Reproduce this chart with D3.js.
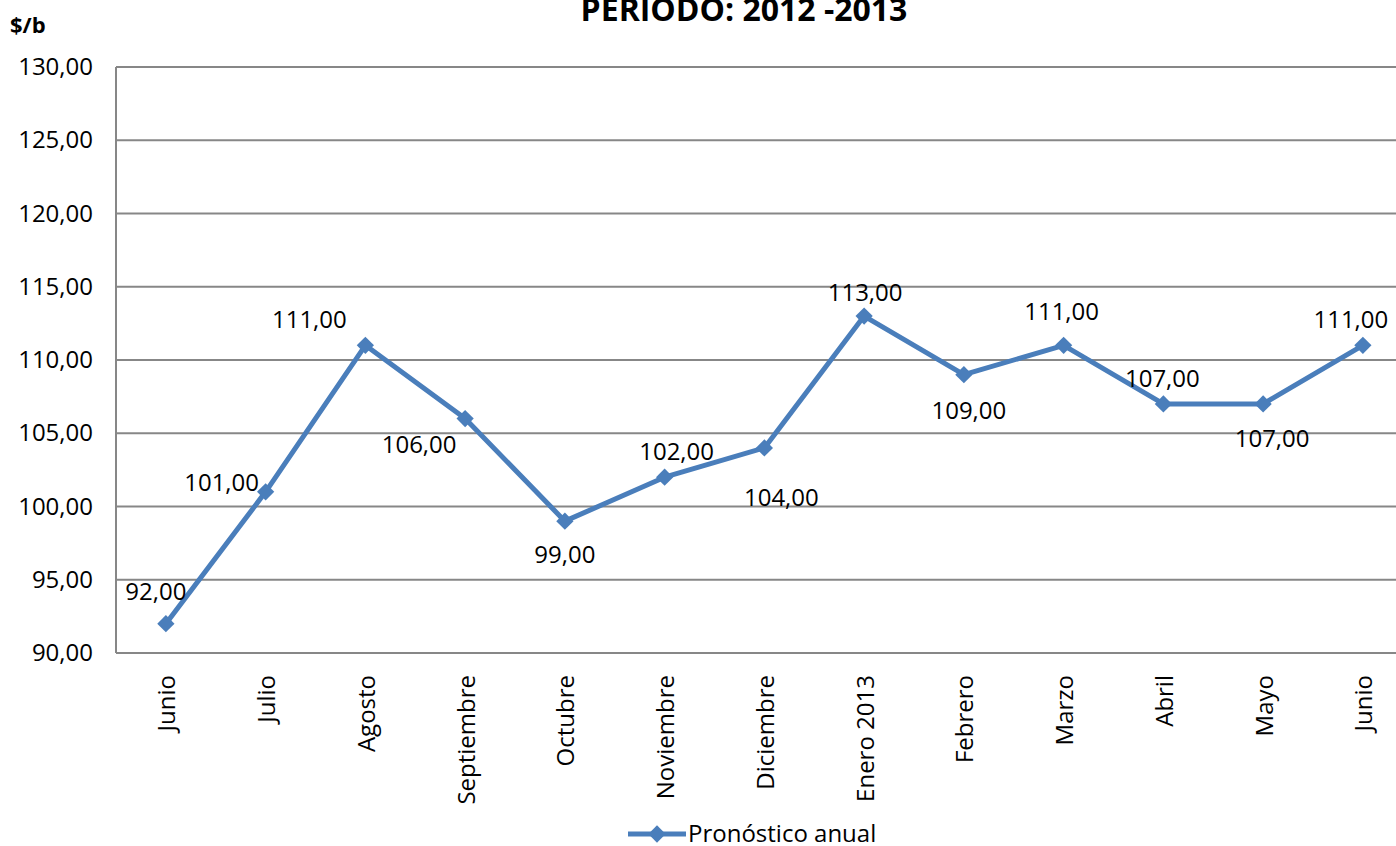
<!DOCTYPE html>
<html>
<head>
<meta charset="utf-8">
<script src="https://cdn.jsdelivr.net/npm/d3@7"></script>
<style>
  html, body { margin: 0; padding: 0; background: #fff; overflow: hidden; }
  svg { display: block; font-family: "Open Sans", "Liberation Sans", sans-serif; }
</style>
</head>
<body>
<svg id="chart" width="1396" height="846"></svg>
<script>
// Monthly forecast, June 2012 – June 2013 ($/b)
const months = ["Junio", "Julio", "Agosto", "Septiembre", "Octubre", "Noviembre",
  "Diciembre", "Enero 2013", "Febrero", "Marzo", "Abril", "Mayo", "Junio"];
const forecast = [92, 101, 111, 106, 99, 102, 104, 113, 109, 111, 107, 107, 111];
const yTicks = [90, 95, 100, 105, 110, 115, 120, 125, 130];
const seriesName = "Pronóstico anual";
const titleText = "PERIODO: 2012 -2013";
const unitText = "$/b";

// Placement of each value label relative to its marker (px)
const labelOffsets = [
  [-10, -33], [-44, -10], [-56, -27], [-46, 25], [0, 32], [12, -27], [17, 49],
  [1, -25], [5, 35], [-2, -35], [-1, -26], [9, 34], [-12, -27]
];

const svg = d3.select("#chart");
const plotLeft = 116, plotTop = 67, plotBottom = 653;
const step = 99.75;
const plotRight = plotLeft + step * months.length;

const x = d3.scaleBand().domain(d3.range(months.length)).range([plotLeft, plotRight]).padding(0);
const y = d3.scaleLinear().domain([90, 130]).range([plotBottom, plotTop]);
const fmt = v => d3.format(".2f")(v).replace(".", ",");

const blue = "#4A7EBB";
const grid = "#878787";

// Gridlines
svg.append("g").selectAll("line").data(yTicks).join("line")
  .attr("x1", plotLeft).attr("x2", plotRight)
  .attr("y1", d => y(d)).attr("y2", d => y(d))
  .attr("stroke", grid).attr("stroke-width", 2);

// Left axis line
svg.append("line").attr("x1", plotLeft).attr("x2", plotLeft)
  .attr("y1", plotTop).attr("y2", plotBottom).attr("stroke", grid).attr("stroke-width", 2);

// Y tick labels
const yAxis = d3.axisLeft(y).tickValues(yTicks).tickFormat(fmt).tickSize(0).tickPadding(0);
const yg = svg.append("g").attr("transform", `translate(${plotLeft - 23},0)`).call(yAxis);
yg.select(".domain").remove();
yg.selectAll("text").attr("font-size", 24).attr("fill", "#000")
  .attr("font-family", "'Open Sans', sans-serif");

// X category labels
const xAxis = d3.axisBottom(x).tickFormat(i => months[i]).tickSize(0);
const xg = svg.append("g").attr("transform", `translate(0,${plotBottom})`).call(xAxis);
xg.select(".domain").remove();
xg.selectAll("text")
  .attr("font-size", 24).attr("fill", "#000")
  .attr("font-family", "'Open Sans', sans-serif")
  .attr("text-anchor", "end")
  .attr("dy", null).attr("y", 0)
  .attr("dominant-baseline", "central")
  .attr("transform", "translate(0,22) rotate(-90)");

const cx = i => x(i) + x.bandwidth() / 2;

// Series line
svg.append("path").datum(forecast)
  .attr("d", d3.line().x((d, i) => cx(i)).y(d => y(d)))
  .attr("fill", "none").attr("stroke", blue).attr("stroke-width", 5)
  .attr("stroke-linejoin", "round");

// Diamond markers
const diamond = d3.symbol().type(d3.symbolDiamond2).size(190);
svg.append("g").selectAll("path").data(forecast).join("path")
  .attr("d", diamond)
  .attr("transform", (d, i) => `translate(${cx(i)},${y(d)})`)
  .attr("fill", blue);

// Value labels
svg.append("g").selectAll("text").data(forecast).join("text")
  .attr("x", (d, i) => cx(i) + labelOffsets[i][0])
  .attr("y", (d, i) => y(d) + labelOffsets[i][1])
  .attr("text-anchor", "middle").attr("dominant-baseline", "central")
  .attr("font-size", 24).attr("fill", "#000")
  .text(fmt);

// Title (partly above the top edge)
svg.append("text").attr("x", 744).attr("y", 21)
  .attr("text-anchor", "middle").attr("font-weight", "bold").attr("font-size", 32)
  .text(titleText);

// Unit label
svg.append("text").attr("x", 10).attr("y", 33)
  .attr("font-weight", "bold").attr("font-size", 22)
  .text(unitText);

// Legend
const lg = svg.append("g");
lg.append("line").attr("x1", 628).attr("x2", 686).attr("y1", 834).attr("y2", 834)
  .attr("stroke", blue).attr("stroke-width", 5);
lg.append("path").attr("d", diamond).attr("transform", "translate(657,834)").attr("fill", blue);
lg.append("text").attr("x", 688).attr("y", 832).attr("dominant-baseline", "central")
  .attr("font-size", 24).text(seriesName);
</script>
</body>
</html>
